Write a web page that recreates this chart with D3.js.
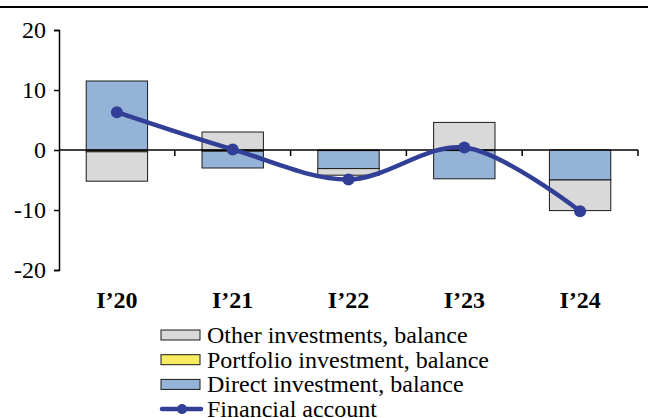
<!DOCTYPE html>
<html>
<head>
<meta charset="utf-8">
<script src="https://cdn.jsdelivr.net/npm/d3@7"></script>
<style>
  body { margin: 0; background: #fff; }
  text { font-family: "Liberation Serif", "Times New Roman", serif; }
</style>
</head>
<body>
<div id="chart"></div>
<script>
// quarters
var quarters = ["I\u201920", "I\u201921", "I\u201922", "I\u201923", "I\u201924"];
// stacked components
var otherInv = [-4.9, 3.0, -1.1, 4.6, -5.1];
var portfolioInv = [-0.3, -0.2, -0.1, -0.1, 0.0];
var directInv = [11.5, -2.8, -3.0, -4.7, -5.0];
// line
var financialAccount = [6.3, 0.1, -4.9, 0.4, -10.2];
var yTicks = [-20, -10, 0, 10, 20];

var svgWidth = 648;
var svgHeight = 418;
var margin = { top: 30, right: 10, bottom: 148, left: 59 };
var width = 638 - margin.left;
var height = 240;

var svg = d3.select("#chart").append("svg")
  .attr("width", svgWidth)
  .attr("height", svgHeight);

// top rule
svg.append("line")
  .attr("x1", 0).attr("x2", svgWidth)
  .attr("y1", 7).attr("y2", 7)
  .attr("stroke", "#000").attr("stroke-width", 2);

var chartGroup = svg.append("g")
  .attr("transform", `translate(${margin.left}, ${margin.top})`);

var x = d3.scaleBand().domain(quarters).range([0, width]).paddingInner(0.47).paddingOuter(0.235);
var xOuter = d3.scaleBand().domain(quarters).range([0, width]);
var y = d3.scaleLinear().domain([-20, 20]).range([height, 0]);

var series = [
  { name: "Portfolio investment, balance", values: portfolioInv, fill: "#f7ec5e" },
  { name: "Direct investment, balance", values: directInv, fill: "#95b3d7" },
  { name: "Other investments, balance", values: otherInv, fill: "#d9d9d9" }
];

// stack positives up and negatives down
var posBase = quarters.map(() => 0);
var negBase = quarters.map(() => 0);
var rects = [];
series.forEach(function(s) {
  s.values.forEach(function(v, i) {
    var y0, y1;
    if (v >= 0) { y0 = posBase[i]; y1 = y0 + v; posBase[i] = y1; }
    else { y0 = negBase[i]; y1 = y0 + v; negBase[i] = y1; }
    rects.push({ q: quarters[i], y0: y0, y1: y1, fill: s.fill });
  });
});

chartGroup.selectAll("rect.bar")
  .data(rects)
  .enter()
  .append("rect")
  .attr("class", "bar")
  .attr("x", d => x(d.q))
  .attr("width", x.bandwidth())
  .attr("y", d => y(Math.max(d.y0, d.y1)))
  .attr("height", d => Math.abs(y(d.y0) - y(d.y1)))
  .attr("fill", d => d.fill)
  .attr("stroke", "#1a1a1a")
  .attr("stroke-width", 1);

// y axis
var leftAxis = d3.axisLeft(y).tickValues(yTicks).tickSize(5).tickFormat(d => String(d));
var yAxis = chartGroup.append("g").call(leftAxis);
yAxis.select(".domain").attr("stroke", "#000").attr("stroke-width", 1.5);
yAxis.selectAll(".tick line").attr("stroke", "#000").attr("stroke-width", 1.5);
yAxis.selectAll("text")
  .attr("x", -13)
  .style("font-family", "Liberation Serif")
  .style("font-size", "24px")
  .attr("fill", "#000");

// x axis at zero with ticks at category boundaries
var zeroY = y(0);
chartGroup.append("line")
  .attr("x1", 0).attr("x2", width)
  .attr("y1", zeroY).attr("y2", zeroY)
  .attr("stroke", "#000").attr("stroke-width", 1.5);
var bounds = quarters.map(q => xOuter(q)).concat([width]).slice(1);
chartGroup.selectAll("line.xtick")
  .data(bounds)
  .enter()
  .append("line")
  .attr("class", "xtick")
  .attr("x1", d => d).attr("x2", d => d)
  .attr("y1", zeroY).attr("y2", zeroY + 6)
  .attr("stroke", "#000").attr("stroke-width", 1.5);

// category labels
chartGroup.selectAll("text.cat")
  .data(quarters)
  .enter()
  .append("text")
  .attr("class", "cat")
  .attr("x", d => xOuter(d) + xOuter.bandwidth() / 2)
  .attr("y", height + 38)
  .attr("text-anchor", "middle")
  .style("font-size", "24px")
  .style("font-weight", "bold")
  .text(d => d);

// financial account line
var lineColor = "#323f97";
var line = d3.line()
  .x((d, i) => xOuter(quarters[i]) + xOuter.bandwidth() / 2)
  .y(d => y(d))
  .curve(d3.curveCatmullRom.alpha(0.5));

chartGroup.append("path")
  .datum(financialAccount)
  .attr("d", line)
  .attr("fill", "none")
  .attr("stroke", lineColor)
  .attr("stroke-width", 4.5);

chartGroup.selectAll("circle")
  .data(financialAccount)
  .enter()
  .append("circle")
  .attr("cx", (d, i) => xOuter(quarters[i]) + xOuter.bandwidth() / 2)
  .attr("cy", d => y(d))
  .attr("r", 6)
  .attr("fill", lineColor);

// legend
var legendItems = [
  { name: "Other investments, balance", fill: "#d9d9d9", type: "box" },
  { name: "Portfolio investment, balance", fill: "#f7ec5e", type: "box" },
  { name: "Direct investment, balance", fill: "#95b3d7", type: "box" },
  { name: "Financial account", fill: lineColor, type: "line" }
];
var legend = svg.append("g").attr("transform", "translate(161, 335)");
legendItems.forEach(function(item, i) {
  var g = legend.append("g").attr("transform", `translate(0, ${i * 24.7})`);
  if (item.type === "box") {
    g.append("rect")
      .attr("x", 0).attr("y", -5)
      .attr("width", 39).attr("height", 10)
      .attr("fill", item.fill)
      .attr("stroke", "#1a1a1a").attr("stroke-width", 1);
  } else {
    g.append("line")
      .attr("x1", 1).attr("x2", 40)
      .attr("y1", 0).attr("y2", 0)
      .attr("stroke", item.fill).attr("stroke-width", 4.5)
      .attr("stroke-linecap", "round");
    g.append("circle").attr("cx", 21).attr("cy", 0).attr("r", 5).attr("fill", item.fill);
  }
  g.append("text")
    .attr("x", 46)
    .attr("y", 8)
    .style("font-size", "24px")
    .attr("fill", "#000")
    .text(item.name);
});
</script>
</body>
</html>
